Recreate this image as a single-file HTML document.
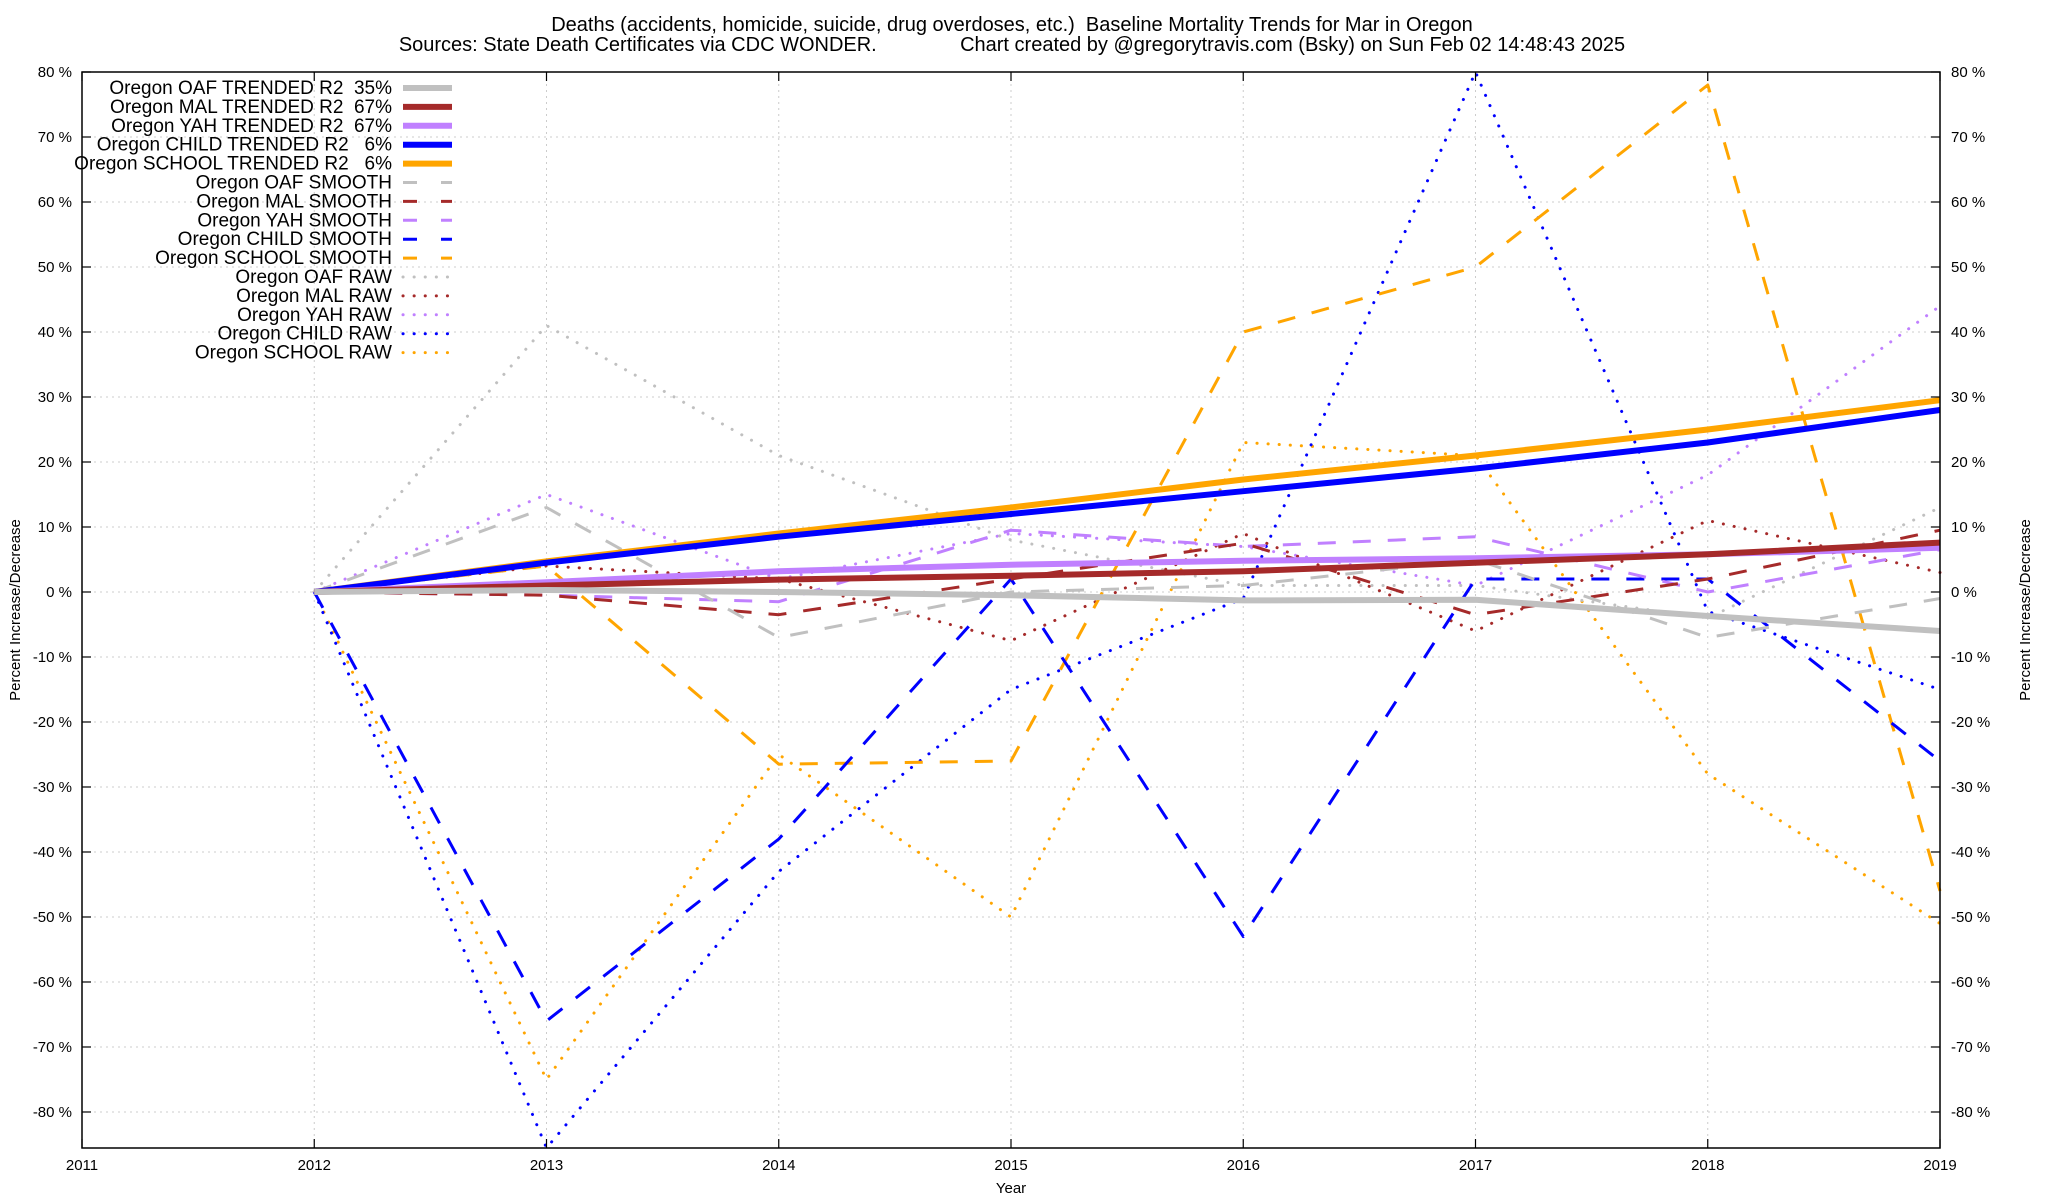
<!DOCTYPE html>
<html><head><meta charset="utf-8"><style>
html,body{margin:0;padding:0;background:#fff}
svg{display:block;font-family:"Liberation Sans",Arial,sans-serif}
text{white-space:pre}
</style></head><body>
<svg id="chart" width="2048" height="1200" viewBox="0 0 2048 1200" xmlns="http://www.w3.org/2000/svg">
<text x="1012" y="31" font-size="20" text-anchor="middle">Deaths (accidents, homicide, suicide, drug overdoses, etc.)  Baseline Mortality Trends for Mar in Oregon</text>
<text x="1012" y="51" font-size="20" text-anchor="middle">Sources: State Death Certificates via CDC WONDER.               Chart created by @gregorytravis.com (Bsky) on Sun Feb 02 14:48:43 2025</text>
<g id="grid"></g>
<g id="series"></g>
<rect x="82" y="72" width="1858" height="1076" fill="none" stroke="#000" stroke-width="1.5"/>
<g id="axes"></g>
<g id="legend"></g>
<text x="1011" y="1193" font-size="15" text-anchor="middle">Year</text>
<text transform="translate(20,610) rotate(-90)" font-size="15" text-anchor="middle">Percent Increase/Decrease</text>
<text transform="translate(2030,610) rotate(-90)" font-size="15" text-anchor="middle">Percent Increase/Decrease</text>
</svg>
<script>
const years=[2012,2013,2014,2015,2016,2017,2018,2019];
const xTicks=[2011,2012,2013,2014,2015,2016,2017,2018,2019];
const yTicks=[-80,-70,-60,-50,-40,-30,-20,-10,0,10,20,30,40,50,60,70,80];
const seriesNames=["Oregon OAF TRENDED R2  35%","Oregon MAL TRENDED R2  67%","Oregon YAH TRENDED R2  67%","Oregon CHILD TRENDED R2   6%","Oregon SCHOOL TRENDED R2   6%","Oregon OAF SMOOTH","Oregon MAL SMOOTH","Oregon YAH SMOOTH","Oregon CHILD SMOOTH","Oregon SCHOOL SMOOTH","Oregon OAF RAW","Oregon MAL RAW","Oregon YAH RAW","Oregon CHILD RAW","Oregon SCHOOL RAW"];
const oafTrend=[0,0.3,0,-0.5,-1.3,-1.2,-3.7,-6];
const malTrend=[0,1,1.9,2.5,3.2,4.5,5.8,7.6];
const yahTrend=[0,1.5,3.2,4.2,4.8,5.2,5.8,6.8];
const childTrend=[0,4.5,8.5,12,15.5,19,23,28];
const schoolTrend=[0,4.7,9,13,17.3,21,25,29.5];
const oafSmooth=[0,13,-7,0,1,5,-7,-1];
const malSmooth=[0,-0.5,-3.5,2,7.5,-3.5,2,9.5];
const yahSmooth=[0,-0.5,-1.5,9.5,7,8.5,0,6.5];
const childSmooth=[0,-66,-38,2,-53,2,2,-26];
const schoolSmooth=[0,4,-26.5,-26,40,50,78,-46];
const oafRaw=[0,41,21,8,1,1,-4,13];
const malRaw=[0,4,2,-7.5,9,-6,11,3];
const yahRaw=[0,15,2,9,7,1,18,44];
const childRaw=[0,-87,-43,-15,-1,80,-3,-15];
const schoolRaw=[0,-75,-25,-50,23,21,-28,-51];

const NS="http://www.w3.org/2000/svg";
const X0=82,X1=1940,Y0=72,Y1=1148,YMIN=-85.54,YMAX=80;
const xs=v=>X0+(v-2011)/(2019-2011)*(X1-X0);
const ys=v=>Y1-(v-YMIN)/(YMAX-YMIN)*(Y1-Y0);
function mk(tag,attrs,parent){const e=document.createElementNS(NS,tag);for(const k in attrs)e.setAttribute(k,attrs[k]);parent.appendChild(e);return e;}
const grid=document.getElementById('grid'),axes=document.getElementById('axes'),sg=document.getElementById('series'),lg=document.getElementById('legend');
yTicks.forEach(t=>{
  const y=ys(t);
  const g=mk('line',{x1:X0,x2:X1,y1:y,y2:y,stroke:'#ccc','stroke-width':1,'stroke-dasharray':'2 4'},grid);
  
  
  const a=mk('line',{x1:X0,x2:X0+9,y1:y,y2:y,stroke:'#000','stroke-width':1.2},axes);
  
  
  const b=mk('line',{x1:X1-9,x2:X1,y1:y,y2:y,stroke:'#000','stroke-width':1.2},axes);
  
  
  const l=mk('text',{x:X0-10,y:y+5,'font-size':15,'text-anchor':'end'},axes);l.textContent=t+' %';
  
  
  const r=mk('text',{x:X1+11,y:y+5,'font-size':15},axes);r.textContent=t+' %';
  
  
});
xTicks.forEach(t=>{
  const x=xs(t);
  const g=mk('line',{x1:x,x2:x,y1:Y0,y2:Y1,stroke:'#ccc','stroke-width':1,'stroke-dasharray':'2 4'},grid);
  
  
  const a=mk('line',{x1:x,x2:x,y1:Y1-9,y2:Y1,stroke:'#000','stroke-width':1.2},axes);
  
  
  const b=mk('line',{x1:x,x2:x,y1:Y0,y2:Y0+9,stroke:'#000','stroke-width':1.2},axes);
  
  
  const l=mk('text',{x:x,y:Y1+22,'font-size':15,'text-anchor':'middle'},axes);l.textContent=t;
  
  
});
const colors={oaf:'#c0c0c0',mal:'#a52a2a',yah:'#c080ff',child:'#0000ff',school:'#ffa500'};
const styles={trend:{w:6,d:null,cap:'butt'},smooth:{w:3,d:'18 17',cap:'butt'},raw:{w:3,d:'0.1 11',cap:'round'}};
const series=[
 [oafTrend,'oaf','trend'],[malTrend,'mal','trend'],[yahTrend,'yah','trend'],[childTrend,'child','trend'],[schoolTrend,'school','trend'],
 [oafSmooth,'oaf','smooth'],[malSmooth,'mal','smooth'],[yahSmooth,'yah','smooth'],[childSmooth,'child','smooth'],[schoolSmooth,'school','smooth'],
 [oafRaw,'oaf','raw'],[malRaw,'mal','raw'],[yahRaw,'yah','raw'],[childRaw,'child','raw'],[schoolRaw,'school','raw']];
function applyStyle(e,c,s){const st=styles[s];e.setAttribute('stroke',colors[c]);e.setAttribute('stroke-width',st.w);e.setAttribute('fill','none');e.setAttribute('stroke-linecap',st.cap);e.setAttribute('stroke-linejoin','round');if(st.d)e.setAttribute('stroke-dasharray',st.d);}
for(let i=series.length-1;i>=0;i--){
  const [vals,c,s]=series[i];
  const pts=vals.map((v,j)=>{const yy=Math.max(Y0,Math.min(Y1,ys(v)));return xs(years[j]).toFixed(1)+','+yy.toFixed(1);}).join(' ');
  const p=mk('polyline',{points:pts},sg);applyStyle(p,c,s);
  
  
}
series.forEach(([vals,c,s],i)=>{
  const y=88+i*18.9;
  const t=mk('text',{x:392,y:y+6,'font-size':19,'text-anchor':'end'},lg);t.textContent=seriesNames[i];
  
  
  const l=mk('line',{x1:403,x2:452,y1:y,y2:y},lg);applyStyle(l,c,s);
  if(s==='smooth')l.setAttribute('stroke-dasharray','14 24');
  
  
});
</script>
</body></html>
